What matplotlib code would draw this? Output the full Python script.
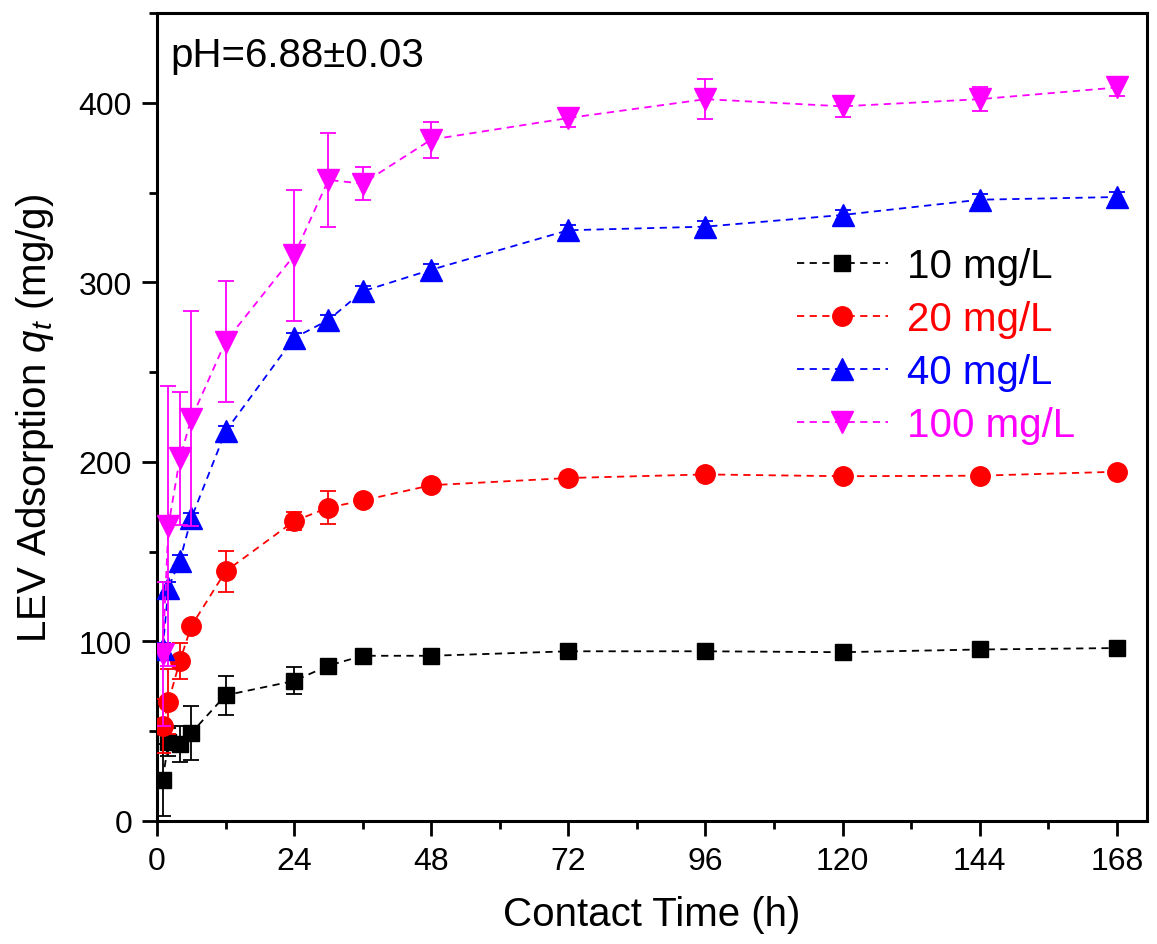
import matplotlib.pyplot as plt

plt.rcParams['font.family'] = ['Liberation Sans', 'DejaVu Sans']
plt.rcParams['mathtext.fontset'] = 'custom'
plt.rcParams['mathtext.rm'] = 'Liberation Sans'
plt.rcParams['mathtext.it'] = 'Liberation Sans:italic'

# contact time (h)
time_h = [1, 2, 4, 6, 12, 24, 30, 36, 48, 72, 96, 120, 144, 168]

# adsorbed amount q_t (mg/g) and standard deviation for each initial concentration
q_10 = [23, 44, 43, 49, 70, 78, 86.5, 92, 92, 94.5, 94.5, 94, 95.5, 96.3]
err_10 = [20, 8, 10, 15, 11, 7.5, 3, 2, 2, 2, 2, 2, 2, 2]

q_20 = [53, 66.5, 89, 108.5, 139, 167, 174.5, 178.5, 187, 191, 193, 192, 192.3, 194.5]
err_20 = [15, 18, 10, 3, 11.5, 5, 9, 3, 3, 3, 2, 2, 2, 2]

q_40 = [96, 130, 145, 168.5, 217, 269, 279, 295, 307, 329, 331, 337.5, 346, 347.5]
err_40 = [3, 3, 3, 3, 3, 3, 3, 3, 3, 3, 3, 3, 3, 3]

q_100 = [93, 164.5, 202, 224, 267, 315, 357, 355, 379.5, 391.5, 402, 398, 402, 408.5]
err_100 = [40, 78, 37, 60, 33.5, 36.5, 26, 9, 10, 5, 11, 6, 6.5, 5]

series = [
    ("10 mg/L", q_10, err_10, "black", "s", 12),
    ("20 mg/L", q_20, err_20, "red", "o", 14),
    ("40 mg/L", q_40, err_40, "blue", "^", 16),
    ("100 mg/L", q_100, err_100, "magenta", "v", 16),
]

fig = plt.figure(figsize=(11.57, 9.45), dpi=100)
ax = fig.add_axes([0.1357, 0.1302, 0.8557, 0.855])

for i, (name, q, err, color, marker, ms) in enumerate(series):
    ax.errorbar(time_h, q, yerr=err, fmt='none', ecolor=color, elinewidth=1.3,
                capsize=6, capthick=1.3, zorder=2 + i)
    ax.plot(time_h, q, linestyle=(0, (4, 3)), linewidth=1.3, color=color,
            marker=marker, markersize=ms, label=name, zorder=2 + i)

ax.set_xlim(0, 173.3)
ax.set_ylim(0, 450)
ax.set_xticks(range(0, 169, 24))
ax.set_xticks(range(12, 169, 24), minor=True)
ax.set_yticks(range(0, 401, 100))
ax.set_yticks(range(50, 451, 100), minor=True)

for side in ax.spines.values():
    side.set_linewidth(2.2)
ax.tick_params(which='both', direction='out', top=False, right=False, width=2)
ax.tick_params(which='major', length=11, labelsize=23, pad=7)
ax.tick_params(which='minor', length=6)

ax.set_xlabel("Contact Time (h)", fontsize=29, labelpad=14)
ax.set_ylabel("LEV Adsorption $q_t$ (mg/g)", fontsize=29, labelpad=16)

ax.text(0.013, 0.935, "pH=6.88±0.03", transform=ax.transAxes, fontsize=29,
        ha='left', va='baseline')

leg = ax.legend(loc='upper left', bbox_to_anchor=(0.646, 0.71), frameon=False,
                fontsize=29, handlelength=2.27, handletextpad=0.46,
                labelspacing=0.37, borderpad=0, borderaxespad=0)
for text, (_, _, _, color, _, _) in zip(leg.get_texts(), series):
    text.set_color(color)

fig.savefig("out.png", dpi=100)
